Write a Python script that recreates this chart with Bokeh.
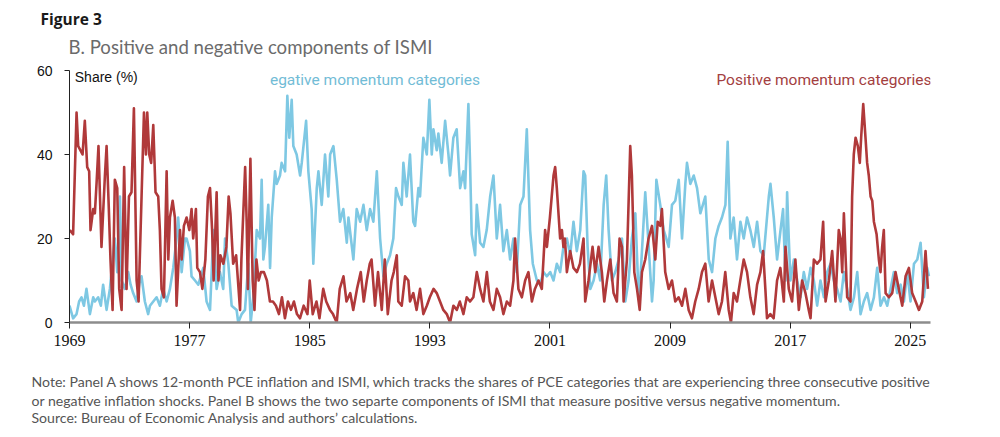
from bokeh.plotting import figure
from bokeh.models import Title, Label, FixedTicker, Range1d
from bokeh.embed import file_html
from bokeh.resources import INLINE

# ---------------- data ----------------
pos_years = [
    1969.02, 1969.24, 1969.47, 1969.58, 1969.73, 1969.87, 1970.02, 1970.18, 1970.31, 1970.40,
    1970.58, 1970.69, 1970.80, 1970.93, 1971.13, 1971.36, 1971.47, 1971.62, 1971.73, 1971.87,
    1972.02, 1972.18, 1972.31, 1972.47, 1972.64, 1972.80, 1972.96, 1973.13, 1973.29, 1973.47,
    1973.60, 1973.80, 1973.96, 1974.09, 1974.18, 1974.31, 1974.44, 1974.58, 1974.73, 1974.91,
    1975.02, 1975.13, 1975.29, 1975.47, 1975.58, 1975.69, 1975.87, 1976.02, 1976.13, 1976.36,
    1976.47, 1976.62, 1976.80, 1976.98, 1977.13, 1977.24, 1977.42, 1977.51, 1977.69, 1977.85,
    1978.05, 1978.22, 1978.36, 1978.50, 1978.60, 1978.80, 1978.92, 1979.05, 1979.25, 1979.45,
    1979.60, 1979.72, 1979.90, 1980.10, 1980.22, 1980.36, 1980.45, 1980.70, 1980.80, 1980.88,
    1981.05, 1981.20, 1981.32, 1981.45, 1981.60, 1981.75, 1981.95, 1982.15, 1982.35, 1982.55,
    1982.75, 1982.95, 1983.15, 1983.35, 1983.55, 1983.75, 1983.95, 1984.15, 1984.35, 1984.60,
    1984.85, 1985.00, 1985.20, 1985.45, 1985.65, 1985.90, 1986.10, 1986.35, 1986.55, 1986.80,
    1987.00, 1987.25, 1987.45, 1987.70, 1987.90, 1988.15, 1988.40, 1988.60, 1988.80, 1989.00,
    1989.12, 1989.35, 1989.55, 1989.80, 1990.00, 1990.20, 1990.45, 1990.60, 1990.80, 1990.90,
    1991.13, 1991.35, 1991.57, 1991.68, 1991.90, 1992.12, 1992.35, 1992.57, 1992.80, 1993.00,
    1993.25, 1993.46, 1993.68, 1993.90, 1994.13, 1994.35, 1994.57, 1994.80, 1995.00, 1995.24,
    1995.46, 1995.68, 1995.90, 1996.13, 1996.35, 1996.57, 1996.80, 1997.00, 1997.24, 1997.46,
    1997.68, 1997.90, 1998.13, 1998.35, 1998.57, 1998.68, 1998.90, 1999.13, 1999.35, 1999.57,
    1999.80, 2000.00, 2000.24, 2000.46, 2000.68, 2000.80, 2001.00, 2001.24, 2001.35, 2001.46,
    2001.68, 2001.80, 2001.90, 2002.00, 2002.13, 2002.35, 2002.57, 2002.80, 2003.00, 2003.24,
    2003.35, 2003.57, 2003.84, 2004.02, 2004.24, 2004.46, 2004.62, 2004.80, 2005.02, 2005.24,
    2005.46, 2005.64, 2005.80, 2005.91, 2006.13, 2006.35, 2006.46, 2006.62, 2006.80, 2006.98,
    2007.13, 2007.35, 2007.57, 2007.80, 2008.02, 2008.18, 2008.35, 2008.46, 2008.68, 2008.91,
    2009.13, 2009.35, 2009.57, 2009.80, 2010.02, 2010.24, 2010.46, 2010.68, 2010.91, 2011.13,
    2011.35, 2011.57, 2011.80, 2012.02, 2012.24, 2012.46, 2012.68, 2012.91, 2013.06, 2013.24,
    2013.46, 2013.68, 2013.91, 2014.13, 2014.35, 2014.57, 2014.80, 2015.02, 2015.20, 2015.35,
    2015.46, 2015.68, 2015.90, 2016.13, 2016.35, 2016.58, 2016.69, 2016.91, 2017.13, 2017.35,
    2017.58, 2017.80, 2018.02, 2018.24, 2018.36, 2018.58, 2018.80, 2019.02, 2019.20, 2019.36,
    2019.58, 2019.80, 2020.02, 2020.24, 2020.36, 2020.47, 2020.58, 2020.80, 2021.02, 2021.13,
    2021.24, 2021.36, 2021.51, 2021.64, 2021.73, 2021.87, 2022.02, 2022.13, 2022.24, 2022.36,
    2022.47, 2022.58, 2022.76, 2022.91, 2023.02, 2023.13, 2023.24, 2023.36, 2023.58, 2023.80,
    2024.02, 2024.24, 2024.47, 2024.69, 2024.91, 2025.13, 2025.36, 2025.58, 2025.80, 2026.02,
    2026.18,
]
pos_values = [
    22, 21, 50, 42, 41, 40, 48, 37, 36, 22,
    27, 26, 33, 42, 18, 35, 42, 27, 15, 3,
    34, 32, 8, 3, 37, 8, 30, 31, 51, 10,
    5, 30, 50, 40, 50, 40, 38, 47, 31, 30,
    22, 8, 6, 36, 15, 25, 29, 25, 4, 22,
    15, 23, 25, 22, 27, 20, 27, 13, 12, 8,
    15, 30, 32, 22, 10, 31, 10, 16, 14, 18,
    30, 26, 14, 16, 10, 3, 15, 37, 24, 8,
    39, 10, 3, 15, 10, 12, 12, 10, 5, 5,
    4, 2, 6, 1, 5, 3, 5, 2, 1, 4,
    2, 10, 2, 5, 1, 8, 5, 3, 2, 0,
    8, 11, 5, 7, 3, 8, 12, 5, 10, 14,
    15, 4, 12, 3, 15, 2, 10, 12, 16, 5,
    4, 11, 10, 5, 7, 3, 8, 2, 4, 6,
    8, 7, 5, 3, 2, 0, 4, 3, 5, 2,
    6, 5, 6, 12, 8, 5, 12, 5, 3, 8,
    6, 2, 5, 4, 10, 20, 8, 6, 10, 12,
    5, 8, 10, 8, 22, 18, 25, 35, 37, 32,
    20, 22, 18, 20, 12, 17, 13, 12, 14, 20,
    5, 10, 18, 12, 18, 12, 5, 10, 15, 7,
    5, 20, 18, 5, 15, 42, 35, 12, 8, 3,
    12, 15, 20, 23, 15, 24, 23, 27, 12, 8,
    10, 5, 6, 4, 8, 3, 1, 5, 8, 12,
    14, 5, 10, 6, 2, 5, 12, 3, 0, 7,
    5, 10, 15, 12, 6, 2, 9, 12, 17, 8,
    1, 2, 1, 10, 13, 5, 18, 8, 5, 15,
    3, 10, 7, 3, 1, 15, 14, 15, 24, 5,
    10, 17, 5, 22, 20, 12, 26, 6, 5, 30,
    40, 44, 42, 38, 44, 52, 44, 38, 35, 30,
    29, 24, 21, 15, 12, 18, 22, 7, 6, 7,
    12, 8, 4, 11, 13, 7, 5, 3, 5, 17,
    8,
]

neg_years = [
    1969.00, 1969.24, 1969.47, 1969.64, 1969.80, 1969.96, 1970.13, 1970.36, 1970.58, 1970.69,
    1970.91, 1971.09, 1971.24, 1971.47, 1971.69, 1971.80, 1972.02, 1972.18, 1972.36, 1972.47,
    1972.69, 1972.91, 1973.07, 1973.24, 1973.47, 1973.69, 1973.80, 1974.02, 1974.24, 1974.36,
    1974.58, 1974.80, 1975.02, 1975.24, 1975.47, 1975.69, 1975.91, 1976.13, 1976.24, 1976.47,
    1976.69, 1976.80, 1977.02, 1977.13, 1977.36, 1977.58, 1977.91, 1978.13, 1978.36, 1978.47,
    1978.58, 1978.80, 1979.02, 1979.24, 1979.36, 1979.58, 1979.80, 1980.13, 1980.24, 1980.47,
    1980.69, 1980.91, 1981.07, 1981.24, 1981.47, 1981.69, 1981.80, 1981.91, 1982.02, 1982.24,
    1982.36, 1982.47, 1982.69, 1982.80, 1983.02, 1983.13, 1983.36, 1983.51, 1983.64, 1983.80,
    1983.91, 1984.13, 1984.36, 1984.47, 1984.76, 1984.91, 1985.13, 1985.24, 1985.47, 1985.58,
    1985.80, 1986.02, 1986.24, 1986.36, 1986.58, 1986.80, 1987.02, 1987.24, 1987.47, 1987.58,
    1987.91, 1988.13, 1988.36, 1988.58, 1988.80, 1989.02, 1989.24, 1989.47, 1989.69, 1989.91,
    1990.13, 1990.35, 1990.57, 1990.75, 1990.91, 1991.13, 1991.24, 1991.46, 1991.68, 1991.90,
    1992.02, 1992.24, 1992.35, 1992.57, 1992.80, 1992.97, 1993.13, 1993.24, 1993.46, 1993.57,
    1993.79, 1994.02, 1994.24, 1994.35, 1994.57, 1994.79, 1995.02, 1995.24, 1995.35, 1995.57,
    1995.68, 1995.79, 1996.02, 1996.13, 1996.35, 1996.57, 1996.79, 1997.02, 1997.24, 1997.46,
    1997.68, 1997.90, 1998.13, 1998.35, 1998.57, 1998.79, 1999.02, 1999.24, 1999.46, 1999.68,
    1999.86, 2000.13, 2000.35, 2000.57, 2000.79, 2001.02, 2001.24, 2001.46, 2001.68, 2001.90,
    2002.13, 2002.35, 2002.57, 2002.79, 2003.02, 2003.24, 2003.35, 2003.51, 2003.69, 2003.91,
    2004.13, 2004.35, 2004.58, 2004.75, 2004.91, 2005.13, 2005.35, 2005.58, 2005.80, 2006.02,
    2006.24, 2006.46, 2006.69, 2006.91, 2007.02, 2007.35, 2007.58, 2007.80, 2007.91, 2008.09,
    2008.35, 2008.58, 2008.75, 2008.91, 2009.13, 2009.35, 2009.58, 2009.80, 2010.02, 2010.13,
    2010.35, 2010.58, 2010.80, 2011.02, 2011.35, 2011.58, 2011.80, 2012.02, 2012.24, 2012.46,
    2012.69, 2012.84, 2013.02, 2013.24, 2013.46, 2013.69, 2013.91, 2014.13, 2014.35, 2014.58,
    2014.80, 2015.02, 2015.24, 2015.58, 2015.69, 2015.91, 2016.13, 2016.36, 2016.53, 2016.69,
    2016.80, 2016.91, 2017.02, 2017.25, 2017.47, 2017.69, 2017.91, 2018.13, 2018.36, 2018.58,
    2018.80, 2019.02, 2019.25, 2019.47, 2019.69, 2019.91, 2020.13, 2020.36, 2020.58, 2020.80,
    2021.02, 2021.25, 2021.47, 2021.69, 2021.91, 2022.13, 2022.36, 2022.58, 2022.80, 2023.02,
    2023.25, 2023.47, 2023.69, 2023.91, 2024.13, 2024.36, 2024.58, 2024.80, 2025.02, 2025.25,
    2025.47, 2025.69, 2025.91, 2026.13, 2026.25,
]
neg_values = [
    4, 1, 2, 5, 6, 4, 8, 2, 6, 5,
    6, 4, 9, 3, 8, 12, 20, 12, 30, 10,
    8, 12, 9, 7, 5, 10, 11, 5, 2, 4,
    5, 6, 4, 8, 5, 8, 13, 20, 25, 12,
    20, 20, 17, 11, 10, 9, 13, 5, 3, 12,
    22, 8, 12, 8, 20, 14, 4, 3, 0, 2,
    3, 14, 0, 6, 22, 20, 34, 15, 18, 28,
    13, 25, 36, 33, 35, 38, 36, 54, 44, 53,
    42, 40, 35, 38, 48, 36, 27, 14, 32, 36,
    28, 40, 30, 40, 42, 34, 24, 27, 19, 25,
    15, 27, 24, 28, 22, 27, 24, 36, 20, 11,
    14, 16, 20, 32, 30, 28, 38, 30, 40, 24,
    23, 32, 30, 44, 40, 53, 40, 46, 41, 45,
    38, 48, 40, 35, 44, 46, 32, 36, 32, 52,
    38, 21, 16, 28, 19, 18, 22, 30, 35, 20,
    28, 17, 22, 15, 20, 12, 28, 30, 46, 22,
    14, 10, 9, 12, 11, 12, 10, 14, 12, 18,
    20, 16, 24, 17, 22, 36, 35, 18, 8, 10,
    14, 10, 28, 35, 22, 10, 12, 15, 20, 5,
    10, 20, 26, 6, 10, 31, 18, 5, 10, 34,
    28, 22, 20, 18, 28, 29, 34, 20, 33, 38,
    33, 35, 32, 26, 30, 15, 12, 20, 23, 25,
    28, 43, 20, 25, 15, 24, 20, 25, 22, 18,
    24, 17, 16, 30, 33, 25, 15, 22, 27, 10,
    31, 20, 10, 15, 10, 6, 12, 8, 13, 10,
    4, 10, 6, 12, 14, 10, 8, 5, 12, 8,
    3, 6, 12, 2, 5, 7, 3, 6, 13, 4,
    6, 4, 8, 12, 7, 9, 5, 12, 5, 14,
    15, 19, 6, 13, 11,
]

x_ticks = [1969, 1977, 1985, 1993, 2001, 2009, 2017, 2025]
y_ticks = [0, 20, 40, 60]

title_text = "Figure 3"
subtitle_text = "B. Positive and negative components of ISMI"
y_label_text = "Share (%)"
neg_label = "egative momentum categories"
pos_label = "Positive momentum categories"
note_lines = [
    "Note: Panel A shows 12-month PCE inflation and ISMI, which tracks the shares of PCE categories that are experiencing three consecutive positive",
    "or negative inflation shocks. Panel B shows the two separte components of ISMI that measure positive versus negative momentum.",
    "Source: Bureau of Economic Analysis and authors\u2019 calculations.",
]

RED = "#b0393a"
BLUE = "#7ec8e3"

p = figure(width=984, height=429, output_backend="svg", toolbar_location=None,
           title_location=None,
           x_range=Range1d(1969, 2026.35), y_range=Range1d(0, 60),
           min_border_left=69, min_border_right=54, min_border_top=0, min_border_bottom=0)
p.outline_line_color = None
p.grid.visible = False
p.background_fill_color = "white"
p.border_fill_color = "white"

p.line(neg_years, neg_values, line_color=BLUE, line_width=2.6, line_join="round")
p.line(pos_years, pos_values, line_color=RED, line_width=2.6, line_join="round")

xa = p.xaxis[0]
xa.ticker = FixedTicker(ticks=x_ticks)
xa.axis_line_color = "#8c8c8c"
xa.axis_line_width = 2.5
xa.major_tick_in = 0
xa.major_tick_out = 6
xa.major_tick_line_color = "#222222"
xa.minor_tick_line_color = None
xa.major_label_text_font = "Liberation Sans Narrow"
xa.major_label_text_font_size = "16px"
xa.major_label_text_color = "#111111"
xa.major_label_standoff = 6

ya = p.yaxis[0]
ya.ticker = FixedTicker(ticks=y_ticks)
ya.axis_line_color = "#222222"
ya.axis_line_width = 1
ya.major_tick_in = 0
ya.major_tick_out = 5
ya.major_tick_line_color = "#222222"
ya.minor_tick_line_color = None
ya.major_label_text_font = "Liberation Sans"
ya.major_label_text_font_size = "14px"
ya.major_label_text_color = "#111111"
ya.major_label_standoff = 12

p.add_layout(Label(x=1969.35, y=58.4, text=y_label_text, text_font="Liberation Sans",
                   text_font_size="14px", text_color="#111111", text_baseline="middle"))
p.add_layout(Label(x=1982.35, y=57.7, text=neg_label, text_font="Roboto",
                   text_font_size="15.5px", text_color="#72bcd6", text_baseline="middle"))
p.add_layout(Label(x=2012.09, y=57.7, text=pos_label, text_font="Roboto",
                   text_font_size="15.5px", text_color="#a3403f", text_baseline="middle"))

# above panels: first added sits next to the frame
p.add_layout(Title(text=subtitle_text, align="left", offset=-1, text_font="Lato",
                   text_font_size="18.6px", text_font_style="normal", text_color="#6b6b6b",
                   standoff=26), "above")
p.add_layout(Title(text=title_text, align="left", offset=-29, text_font="Open Sans",
                   text_font_size="15.5px", text_font_style="bold", text_color="#1a1a1a",
                   standoff=-18), "above")
p.add_layout(Title(text=" ", text_font_size="1px", standoff=11), "above")

# below panels: spacer between the axis labels and the note, then note lines
p.add_layout(Title(text=" ", text_font_size="1px", standoff=13), "below")
note_standoffs = [11.5, -12.5, 7.5]
for line, so in zip(note_lines, note_standoffs):
    p.add_layout(Title(text=line, align="left", offset=-38, text_font="Lato",
                       text_font_size="14.1px", text_font_style="normal", text_color="#555555",
                       standoff=so), "below")

open("out.html", "w").write(file_html(p, INLINE))
